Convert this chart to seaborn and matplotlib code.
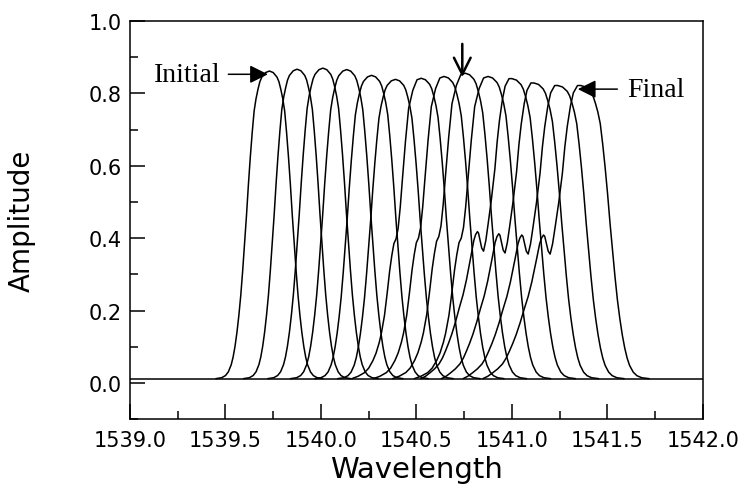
import numpy as np
import pandas as pd
import matplotlib
matplotlib.use("Agg")
import matplotlib.pyplot as plt
from matplotlib.ticker import MultipleLocator
import seaborn as sns

# Peak positions / heights (14 spectra, Initial -> Final)
CENTERS = [1539.73, 1539.875, 1540.01, 1540.135, 1540.265, 1540.39, 1540.525,
           1540.645, 1540.755, 1540.875, 1541.0, 1541.115, 1541.24, 1541.36]
HEIGHTS = [0.850, 0.855, 0.858, 0.854, 0.838, 0.827, 0.830,
           0.835, 0.844, 0.835, 0.829, 0.817, 0.810, 0.810]
WIDTHS = [1.00, 1.00, 1.03, 1.05, 1.06, 1.08, 1.10,
          1.12, 1.15, 1.17, 1.19, 1.21, 1.24, 1.28]
LEFT_SHAPES = ["clean", "clean", "clean", "clean", "clean", "clean", "kink",
               "kink", "kink", "kink", "ripple", "ripple", "ripple", "ripple"]
BASELINE = 0.012

# Relative line shapes (offset from peak in nm, fraction of peak height)
CLEAN_OFFSETS = [0.0, 0.02, 0.04, 0.05, 0.06, 0.07, 0.08, 0.09, 0.10, 0.11, 0.12,
                 0.13, 0.14, 0.15, 0.16, 0.17, 0.18, 0.19, 0.20, 0.215, 0.23, 0.25, 0.28]
CLEAN_LEVELS = [1.0, 0.995, 0.98, 0.965, 0.94, 0.91, 0.87, 0.80, 0.72, 0.63, 0.53,
                0.44, 0.35, 0.27, 0.205, 0.15, 0.105, 0.07, 0.045, 0.022, 0.01, 0.003, 0.0]
KINK_OFFSETS = [0.0, 0.02, 0.04, 0.06, 0.075, 0.09, 0.10, 0.11, 0.12, 0.13, 0.14,
                0.15, 0.162, 0.175, 0.19, 0.20, 0.215, 0.23, 0.25, 0.27, 0.30, 0.33]
KINK_LEVELS = [1.0, 0.995, 0.96, 0.90, 0.79, 0.66, 0.57, 0.50, 0.465, 0.45, 0.41,
               0.36, 0.285, 0.21, 0.15, 0.12, 0.085, 0.06, 0.035, 0.02, 0.008, 0.0]
RIPPLE_OFFSETS = [0.0, 0.013, 0.03, 0.042, 0.055, 0.065, 0.075, 0.09, 0.104, 0.115,
                  0.125, 0.133, 0.14, 0.147, 0.152, 0.16, 0.168, 0.18, 0.19, 0.20,
                  0.215, 0.232, 0.248, 0.264, 0.278, 0.292, 0.305, 0.32, 0.34, 0.36,
                  0.38, 0.40]
RIPPLE_LEVELS = [1.0, 1.0, 0.975, 0.93, 0.86, 0.79, 0.70, 0.60, 0.52, 0.46,
                 0.425, 0.435, 0.46, 0.485, 0.49, 0.48, 0.46, 0.41, 0.37, 0.33,
                 0.28, 0.235, 0.19, 0.15, 0.12, 0.093, 0.07, 0.05, 0.033, 0.02,
                 0.008, 0.0]

SHAPES = {
    "clean": (CLEAN_OFFSETS, CLEAN_LEVELS),
    "kink": (KINK_OFFSETS, KINK_LEVELS),
    "ripple": (RIPPLE_OFFSETS, RIPPLE_LEVELS),
}

X_TICKS = [1539.0, 1539.5, 1540.0, 1540.5, 1541.0, 1541.5, 1542.0]
Y_TICKS = [0.0, 0.2, 0.4, 0.6, 0.8, 1.0]


def build_frame():
    rows = []
    for i, (c, h, w, shape) in enumerate(zip(CENTERS, HEIGHTS, WIDTHS, LEFT_SHAPES)):
        l_off, l_lev = SHAPES[shape]
        # left flank, outermost point first
        for off, lev in zip(l_off[::-1], l_lev[::-1]):
            rows.append((i, c - w * off, h * lev + BASELINE))
        # right flank
        for off, lev in zip(CLEAN_OFFSETS[1:], CLEAN_LEVELS[1:]):
            rows.append((i, c + w * off, h * lev + BASELINE))
    return pd.DataFrame(rows, columns=["curve", "wavelength", "amplitude"])


sns.set_style("ticks")
plt.rcParams["font.family"] = ["DejaVu Sans"]
for key in ["text.color", "axes.labelcolor", "xtick.color", "ytick.color", "axes.edgecolor"]:
    plt.rcParams[key] = "black"

df = build_frame()

fig = plt.figure(figsize=(7.47, 5.02), dpi=100)
ax = fig.add_axes([0.174, 0.163, 0.767, 0.793])

ax.axhline(BASELINE, color="black", lw=1.1)
sns.lineplot(data=df, x="wavelength", y="amplitude", units="curve",
             estimator=None, color="black", linewidth=1.1, legend=False, ax=ax)

ax.set_xlim(1539.0, 1542.0)
ax.set_ylim(-0.1, 1.0)
ax.set_xticks(X_TICKS)
ax.set_xticklabels([f"{t:.1f}" for t in X_TICKS])
ax.set_yticks(Y_TICKS)
ax.set_yticklabels([f"{t:.1f}" for t in Y_TICKS])
ax.xaxis.set_minor_locator(MultipleLocator(0.25))
ax.yaxis.set_minor_locator(MultipleLocator(0.1))
ax.tick_params(which="both", direction="in", top=False, right=False, width=1.1)
ax.tick_params(which="major", length=10.5, labelsize=15)
ax.tick_params(which="minor", length=5.5)
ax.tick_params(axis="x", which="major", pad=8)
ax.tick_params(axis="y", which="major", pad=6)
for sp in ax.spines.values():
    sp.set_visible(True)
    sp.set_linewidth(1.1)

ax.set_xlabel("Wavelength", fontsize=21)
ax.set_ylabel("Amplitude", fontsize=20)
ax.xaxis.set_label_coords(0.5, -0.09)
ax.yaxis.set_label_coords(-0.165, 0.5)

serif = ["Liberation Serif", "DejaVu Serif"]
ax.text(1539.30, 0.852, "Initial", family=serif, fontsize=20, ha="center", va="center")
ax.annotate("", xy=(1539.722, 0.853), xytext=(1539.515, 0.853),
            arrowprops=dict(arrowstyle="-|>,head_length=0.5,head_width=0.25",
                            mutation_scale=22, color="black", lw=1.1,
                            shrinkA=0, shrinkB=0))
ax.text(1541.755, 0.812, "Final", family=serif, fontsize=20, ha="center", va="center")
ax.annotate("", xy=(1541.345, 0.812), xytext=(1541.552, 0.812),
            arrowprops=dict(arrowstyle="-|>,head_length=0.5,head_width=0.25",
                            mutation_scale=22, color="black", lw=1.1,
                            shrinkA=0, shrinkB=0))
ax.annotate("", xy=(1540.74, 0.845), xytext=(1540.74, 0.937),
            arrowprops=dict(arrowstyle="->,head_length=0.6,head_width=0.3",
                            mutation_scale=20, color="black", lw=1.8,
                            shrinkA=0, shrinkB=0))

fig.savefig("out.png", dpi=100)
